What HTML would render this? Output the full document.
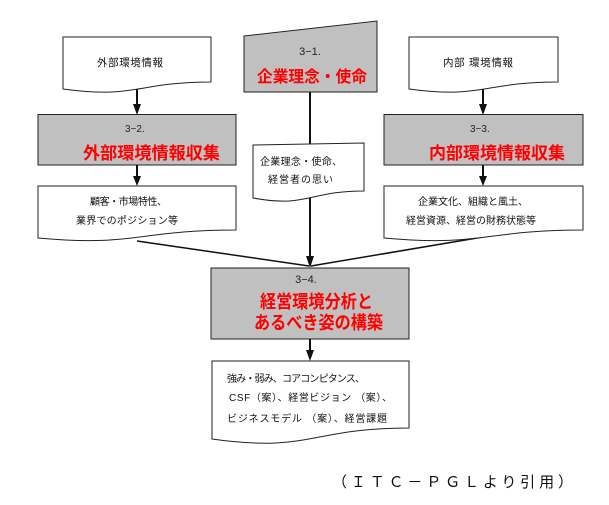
<!DOCTYPE html>
<html><head><meta charset="utf-8">
<style>
html,body{margin:0;padding:0;background:#fff;}
svg{display:block;}
text{font-family:"Liberation Sans","Noto Sans CJK JP",sans-serif;}
.s{font-size:10.5px;fill:#111;}
.r{font-size:17px;fill:#ff0000;font-weight:bold;}
.n{font-size:10px;fill:#222;}
</style></head>
<body>
<svg width="609" height="505" viewBox="0 0 609 505" xmlns="http://www.w3.org/2000/svg">
<rect width="609" height="505" fill="#fff"/>
<!-- top left document -->
<path d="M63,37 L211,37 L211,82 C137,82 137,99 63,89 Z" fill="#fff" stroke="#222" stroke-width="1"/>
<text class="s" x="130" y="66" text-anchor="middle" textLength="66" lengthAdjust="spacing">外部環境情報</text>
<!-- top right document -->
<path d="M409,37 L558,37 L558,82 C483,82 483,99 409,89 Z" fill="#fff" stroke="#222" stroke-width="1"/>
<text class="s" x="478" y="66" text-anchor="middle" textLength="70" lengthAdjust="spacing">内部 環境情報</text>

<!-- 3-1 manual input -->
<polygon points="244,36 377,21 377,92 244,92" fill="#c0c0c0" stroke="#222" stroke-width="1"/>
<text class="n" x="310" y="55" text-anchor="middle" style="font-size:11px">3−1.</text>
<text class="r" x="312" y="82" text-anchor="middle" textLength="110" lengthAdjust="spacingAndGlyphs" style="font-size:16px">企業理念・使命</text>

<!-- center vertical line -->
<line x1="310" y1="92" x2="310" y2="258" stroke="#111" stroke-width="2"/>

<!-- arrows top -->
<line x1="137" y1="89" x2="137" y2="106" stroke="#111" stroke-width="2"/>
<polygon points="133,104 141,104 137,115" fill="#111"/>
<line x1="483" y1="89" x2="483" y2="106" stroke="#111" stroke-width="2"/>
<polygon points="479,104 487,104 483,115" fill="#111"/>

<!-- 3-2 box -->
<rect x="38" y="114.5" width="198" height="50.5" fill="#c0c0c0" stroke="#222" stroke-width="1"/>
<text class="n" x="125" y="132">3−2.</text>
<text class="r" x="151.5" y="159" text-anchor="middle" textLength="137" lengthAdjust="spacingAndGlyphs">外部環境情報収集</text>
<!-- 3-3 box -->
<rect x="384" y="114.5" width="199" height="50.5" fill="#c0c0c0" stroke="#222" stroke-width="1"/>
<text class="n" x="470" y="132">3−3.</text>
<text class="r" x="497" y="159" text-anchor="middle" textLength="136" lengthAdjust="spacingAndGlyphs">内部環境情報収集</text>

<!-- arrows mid -->
<line x1="137" y1="165" x2="137" y2="178" stroke="#111" stroke-width="2"/>
<polygon points="133,176 141,176 137,186" fill="#111"/>
<line x1="483" y1="165" x2="483" y2="178" stroke="#111" stroke-width="2"/>
<polygon points="479,176 487,176 483,186" fill="#111"/>

<!-- converging lines -->
<line x1="137" y1="241" x2="309" y2="266" stroke="#111" stroke-width="1.5"/>
<line x1="483" y1="237" x2="311" y2="266" stroke="#111" stroke-width="1.5"/>

<!-- left bottom doc -->
<path d="M38,186 L236,186 L236,230 C137,230 137,247 38,238 Z" fill="#fff" stroke="#222" stroke-width="1"/>
<text class="s" x="90" y="205" textLength="77" lengthAdjust="spacing" style="font-size:10px">顧客・市場特性、</text>
<text class="s" x="76" y="224" textLength="102" lengthAdjust="spacing" style="font-size:10px">業界でのポジション等</text>
<!-- right bottom doc -->
<path d="M384,186 L583,186 L583,230 C483,230 483,247 384,238 Z" fill="#fff" stroke="#222" stroke-width="1"/>
<text class="s" x="418" y="205" textLength="110" lengthAdjust="spacing" style="font-size:10px">企業文化、組織と風土、</text>
<text class="s" x="406" y="224" textLength="130" lengthAdjust="spacing" style="font-size:10px">経営資源、経営の財務状態等</text>

<!-- center doc -->
<path d="M253,145 L364,143 L364,191 C308,191 308,208 253,198 Z" fill="#fff" stroke="#222" stroke-width="1"/>
<text class="s" x="260" y="165" textLength="82" lengthAdjust="spacing" style="font-size:10px">企業理念・使命、</text>
<text class="s" x="268" y="183" textLength="65" lengthAdjust="spacing" style="font-size:10px">経営者の思い</text>

<!-- center arrowhead into 3-4 -->
<polygon points="306,256 314,256 310,268" fill="#111"/>

<!-- 3-4 box -->
<rect x="211" y="268" width="198" height="71" fill="#c0c0c0" stroke="#222" stroke-width="1"/>
<text class="n" x="306" y="283" text-anchor="middle" style="font-size:11px">3−4.</text>
<text class="r" x="316.5" y="308" text-anchor="middle" textLength="113" lengthAdjust="spacingAndGlyphs" style="font-size:18px">経営環境分析と</text>
<text class="r" x="318.5" y="329" text-anchor="middle" textLength="129" lengthAdjust="spacingAndGlyphs" style="font-size:18px">あるべき姿の構築</text>

<!-- arrow to bottom doc -->
<line x1="310" y1="339" x2="310" y2="352" stroke="#111" stroke-width="2"/>
<polygon points="306,350 314,350 310,361" fill="#111"/>

<!-- bottom doc -->
<path d="M212,361 L409,361 L409,428 C310,428 310,453 212,439 Z" fill="#fff" stroke="#222" stroke-width="1"/>
<text class="s" x="227" y="382" textLength="138" lengthAdjust="spacing" style="font-size:10px">強み・弱み、コアコンピタンス、</text>
<text class="s" x="229" y="401" textLength="163" lengthAdjust="spacing" style="font-size:10px">CSF（案）、経営ビジョン （案）、</text>
<text class="s" x="227" y="422" textLength="160" lengthAdjust="spacing" style="font-size:10px">ビジネスモデル （案）、経営課題</text>

<!-- caption -->
<text x="332" y="487" textLength="241" lengthAdjust="spacing" style="font-size:15px;fill:#111">（ＩＴＣ－ＰＧＬより引用）</text>
</svg>
</body></html>
